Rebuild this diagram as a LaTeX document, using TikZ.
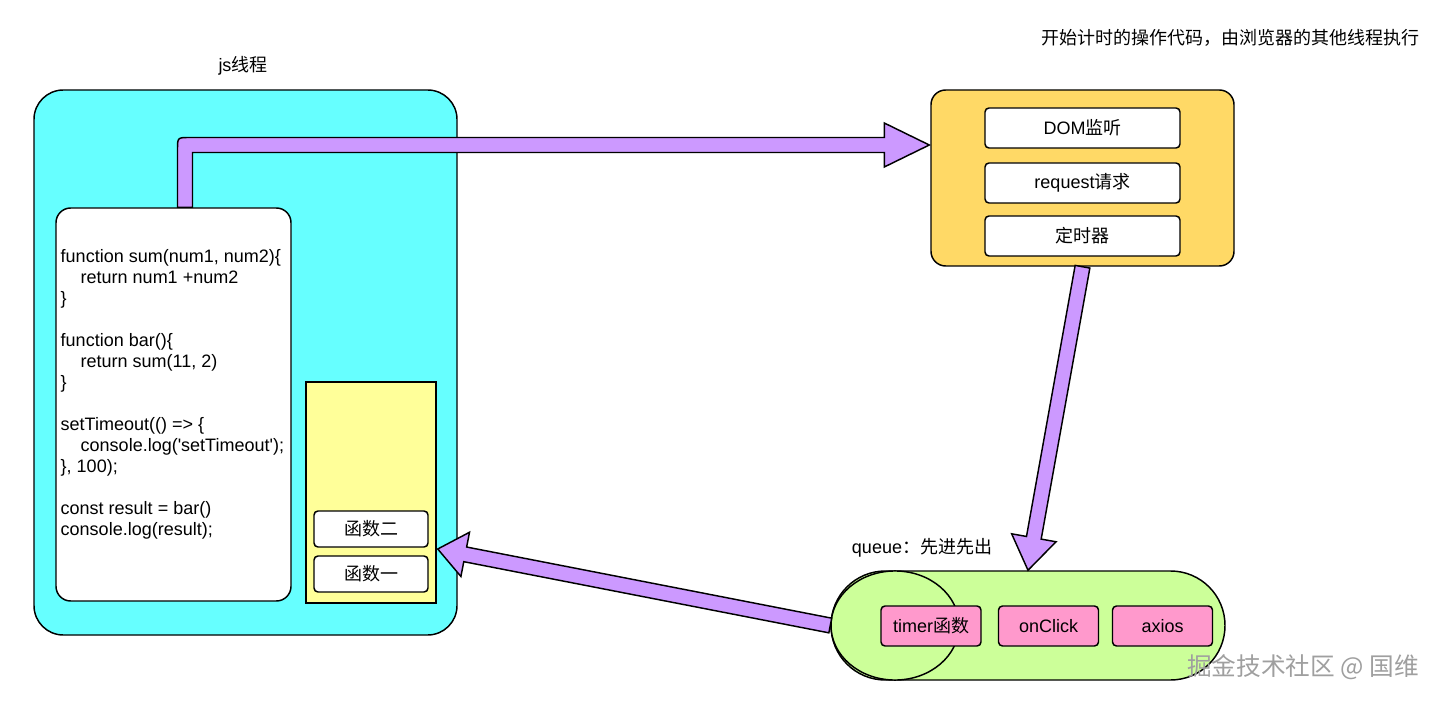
\documentclass[tikz,border=0pt]{standalone}
\usepackage{fontspec}
\setmainfont{Liberation Sans}
\newfontfamily\cjk{Noto Sans CJK SC}
\usetikzlibrary{calc,positioning}

\definecolor{jscyan}{HTML}{66FFFF}
\definecolor{stackyellow}{HTML}{FFFF99}
\definecolor{apiorange}{HTML}{FFD966}
\definecolor{queuegreen}{HTML}{CCFF99}
\definecolor{taskpink}{HTML}{FF99CC}
\definecolor{arrowpurple}{HTML}{CC99FF}

% block arrow: [head length]{start}{tip}
\newcommand{\blockarrow}[3][24pt]{%
  \coordinate (ba-h) at ($(#3)!#1!(#2)$);
  \draw[arrowbody] ($(#2)!5.6pt!90:(#3)$) -- ($(ba-h)!5.6pt!90:(#3)$)
    -- ($(ba-h)!16.9pt!90:(#3)$) -- (#3) -- ($(ba-h)!16.9pt!-90:(#3)$)
    -- ($(ba-h)!5.6pt!-90:(#3)$) -- ($(#2)!5.6pt!-90:(#3)$) -- cycle;
}

\begin{document}
\begin{tikzpicture}[x=0.75pt,y=-0.75pt,line width=1.1pt,
    every node/.style={font=\fontsize{13.5}{15.75}\selectfont},
    arrowbody/.style={draw, fill=arrowpurple},
    jsbox/.style={draw, fill=jscyan, rounded corners=22pt,
      minimum width=317.25pt, minimum height=408.75pt},
    codebox/.style={draw, fill=white, rounded corners=11pt,
      minimum width=176.25pt, minimum height=294.75pt},
    stackbox/.style={draw, fill=stackyellow,
      minimum width=97.5pt, minimum height=165.75pt},
    fnbox/.style={draw, fill=white, rounded corners=3pt,
      minimum width=85.5pt, minimum height=27pt},
    browserbox/.style={draw, fill=apiorange, rounded corners=11pt,
      minimum width=227.25pt, minimum height=132pt},
    apibox/.style={draw, fill=white, rounded corners=3pt,
      minimum width=146.25pt, minimum height=30pt},
    queuebox/.style={draw, fill=queuegreen, rounded corners=40.8pt,
      minimum width=295.5pt, minimum height=81.75pt},
    taskbox/.style={draw, fill=taskpink, rounded corners=3pt,
      minimum width=75pt, minimum height=30pt}]
  \useasboundingbox (0,0) rectangle (1442,702);

  % js thread
  \node (title) at (243,66) {js{\cjk 线程}};
  \node[jsbox] (js) at (245.5,362.5) {};
  \node[codebox] (code) at (173.5,404.5) {};
  \node[anchor=north west, align=left, inner sep=0pt] (src) at (60,249) {%
    function sum(num1, num2)\{\\
    \hspace*{15pt}return num1 +num2\\
    \}\\[15.75pt]
    function bar()\{\\
    \hspace*{15pt}return sum(11, 2)\\
    \}\\[15.75pt]
    setTimeout(() => \{\\
    \hspace*{15pt}console.log(\textquotesingle setTimeout\textquotesingle);\\
    \}, 100);\\[15.75pt]
    const result = bar()\\
    console.log(result);};

  % call stack
  \node[stackbox] (stack) at (371,492.5) {};
  \node[fnbox] (fn2) at (371,529) {\cjk 函数二};
  \node[fnbox] (fn1) at (371,574) {\cjk 函数一};

  % browser threads
  \node (note) at (1230,38) {\cjk 开始计时的操作代码，由浏览器的其他线程执行};
  \node[browserbox] (browser) at (1082.5,178) {};
  \foreach \n/\y/\t in {dom/128/DOM{\cjk 监听}, req/183/request{\cjk 请求},
      timer/236/{\cjk 定时器}}
    \node[apibox] (\n) at (1082.5,\y) {\t};

  % js -> browser
  \coordinate (up) at ($(code.north)+(11.5,0)$);
  \coordinate (t1) at ($(browser.west)+(-1,-33)$);
  \coordinate (c1) at ($(up |- t1)+(-7.5,-7.5)$);
  \draw[arrowbody] ($(up)+(-7.5,0)$) -- ($(c1)+(0,12)$) .. controls (c1) .. ($(c1)+(12,0)$)
    -- ($(t1)+(-45,-7.5)$) -- ($(t1)+(-45,-22)$) -- (t1) -- ($(t1)+(-45,22)$)
    -- ($(t1)+(-45,7.5)$) -- ($(up |- t1)+(7.5,7.5)$) -- ($(up)+(7.5,0)$) -- cycle;

  % task queue
  \node (qlabel) at (922,548) {queue{\cjk ：先进先出}};
  \node[queuebox] (queue) at (1028,625.5) {};
  \draw[fill=queuegreen] (895,625.5) ellipse [x radius=48pt, y radius=40.9pt];
  \foreach \n/\x/\t in {tfn/931/timer{\cjk 函数}, click/1048.5/onClick, ax/1162.5/axios}
    \node[taskbox] (\n) at (\x,626) {\t};

  % browser -> queue -> stack
  \blockarrow[24.75pt]{browser.south}{queue.north}
  \coordinate (t3) at ($(stack.east)+(1,56.5)$);
  \blockarrow[21pt]{queue.west}{t3}

  \node[text=gray!75, font=\cjk\fontsize{18.5}{20}\selectfont] (mark) at (1303,667)
    {掘金技术社区 @ 国维};
\end{tikzpicture}
\end{document}
